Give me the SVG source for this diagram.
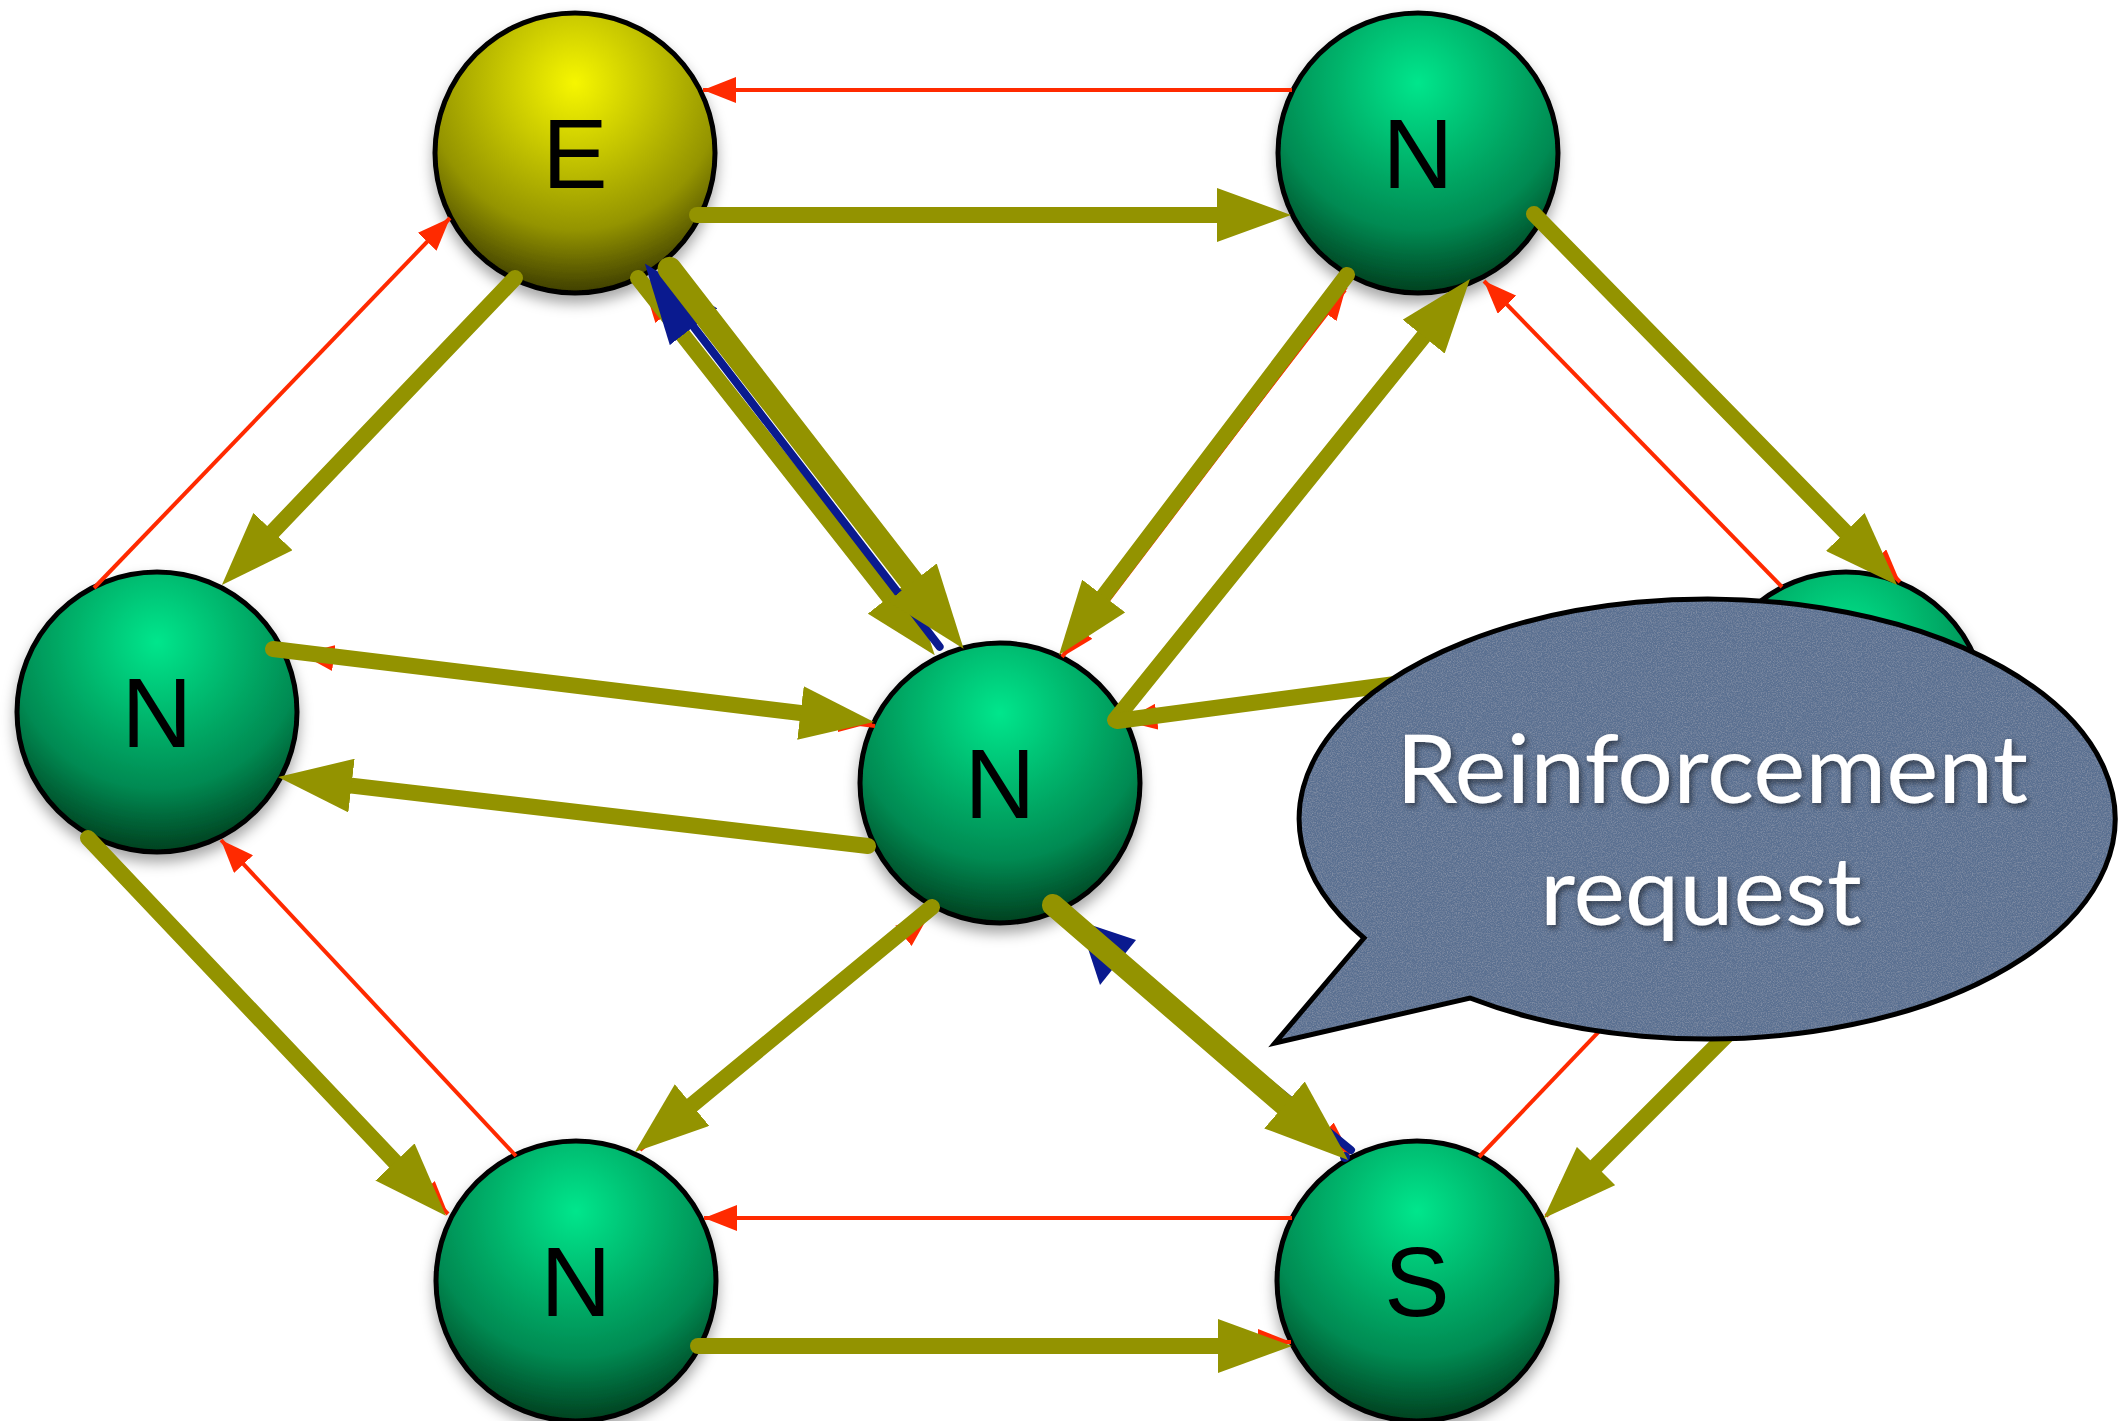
<svg xmlns="http://www.w3.org/2000/svg" width="2124" height="1421" viewBox="0 0 2124 1421">
  <defs>
    <style>
      .node { stroke: #000; stroke-width: 5; }
      .label { font-family: "Liberation Sans", Arial, sans-serif; font-size: 98px; fill: #000; text-anchor: middle; }
      .o { fill: none; stroke: #939300; stroke-width: 16; stroke-linecap: round; marker-end: url(#hOlive); }
      .ow { fill: none; stroke: #939300; stroke-linecap: round; marker-end: url(#hOliveL); }
      .r { fill: none; stroke: #ff2a00; stroke-width: 4; stroke-linecap: butt; marker-end: url(#hRed); }
      .b { fill: none; stroke: #0a1a8f; stroke-width: 8; stroke-linecap: round; }
      .callout-text { font-family: Lato, "Open Sans", "Liberation Sans", sans-serif; font-size: 95px; fill: #fff; text-anchor: middle; }
    </style>
    <radialGradient id="gGreen" cx="0.5" cy="0.25" r="0.75" fx="0.5" fy="0.25">
      <stop offset="0" stop-color="#00e68c"/>
      <stop offset="0.35" stop-color="#00b86e"/>
      <stop offset="0.7" stop-color="#008a52"/>
      <stop offset="1" stop-color="#00401f"/>
    </radialGradient>
    <radialGradient id="gYellow" cx="0.5" cy="0.25" r="0.75" fx="0.5" fy="0.25">
      <stop offset="0" stop-color="#f6f600"/>
      <stop offset="0.35" stop-color="#c6c600"/>
      <stop offset="0.7" stop-color="#949400"/>
      <stop offset="1" stop-color="#3e3e00"/>
    </radialGradient>
    <filter id="nodeShadow" x="-20%" y="-20%" width="140%" height="150%">
      <feDropShadow dx="0" dy="8" stdDeviation="7" flood-color="#000" flood-opacity="0.35"/>
    </filter>
    <filter id="textShadow" x="-10%" y="-30%" width="120%" height="160%">
      <feDropShadow dx="2" dy="3" stdDeviation="3" flood-color="#000" flood-opacity="0.55"/>
    </filter>
    <filter id="grain" x="0%" y="0%" width="100%" height="100%">
      <feTurbulence type="fractalNoise" baseFrequency="0.8" numOctaves="3" seed="7" result="noise"/>
      <feColorMatrix in="noise" type="matrix" values="0 0 0 0 1  0 0 0 0 1  0 0 0 0 1  0.3 0 0 0 -0.12" result="speck"/>
      <feComposite in="speck" in2="SourceGraphic" operator="in" result="g"/>
      <feMerge>
        <feMergeNode in="SourceGraphic"/>
        <feMergeNode in="g"/>
      </feMerge>
    </filter>
    <marker id="hOlive" markerUnits="userSpaceOnUse" viewBox="0 -27 74 54" markerWidth="74" markerHeight="54" refX="0" refY="0" orient="auto">
      <path d="M0,-27 L74,0 L0,27 z" fill="#939300"/>
    </marker>
    <marker id="hOliveL" markerUnits="userSpaceOnUse" viewBox="0 -31 84 62" markerWidth="84" markerHeight="62" refX="0" refY="0" orient="auto">
      <path d="M0,-31 L84,0 L0,31 z" fill="#939300"/>
    </marker>
    <marker id="hRed" markerUnits="userSpaceOnUse" viewBox="0 -13 33 26" markerWidth="33" markerHeight="26" refX="33" refY="0" orient="auto">
      <path d="M0,-13 L33,0 L0,13 z" fill="#ff2a00"/>
    </marker>
    <marker id="hBlue" markerUnits="userSpaceOnUse" viewBox="0 -30 80 60" markerWidth="80" markerHeight="60" refX="0" refY="0" orient="auto">
      <path d="M0,-30 L80,0 L0,30 z" fill="#0a1a8f"/>
    </marker>
  </defs>

  <rect width="2124" height="1421" fill="#fff"/>

  <!-- nodes -->
  <g id="node-E" filter="url(#nodeShadow)">
    <circle class="node" cx="575" cy="153" r="140" fill="url(#gYellow)"/>
    <text class="label" x="575" y="188">E</text>
  </g>
  <g id="node-N-top" filter="url(#nodeShadow)">
    <circle class="node" cx="1418" cy="153" r="140" fill="url(#gGreen)"/>
    <text class="label" x="1418" y="188">N</text>
  </g>
  <g id="node-N-left" filter="url(#nodeShadow)">
    <circle class="node" cx="157" cy="712" r="140" fill="url(#gGreen)"/>
    <text class="label" x="157" y="747">N</text>
  </g>
  <g id="node-N-center" filter="url(#nodeShadow)">
    <circle class="node" cx="1000" cy="783" r="140" fill="url(#gGreen)"/>
    <text class="label" x="1000" y="818">N</text>
  </g>
  <!-- right node sits behind the callout, only its top cap shows -->
  <g id="node-N-right" filter="url(#nodeShadow)">
    <circle class="node" cx="1846" cy="712" r="140" fill="url(#gGreen)"/>
  </g>
  <g id="node-N-bottom" filter="url(#nodeShadow)">
    <circle class="node" cx="576" cy="1281" r="140" fill="url(#gGreen)"/>
    <text class="label" x="576" y="1316">N</text>
  </g>
  <g id="node-S" filter="url(#nodeShadow)">
    <circle class="node" cx="1417" cy="1281" r="140" fill="url(#gGreen)"/>
    <text class="label" x="1417" y="1316">S</text>
  </g>

  <!-- connectors -->
  <g id="connectors">
    <!-- thin red links -->
    <path class="r" d="M1292,90 L703,90"/>
    <path class="r" d="M94,588 L450,218"/>
    <path class="r" d="M1782,587 L1484,281"/>
    <path class="r" d="M516,1156 L221,840"/>
    <path class="r" d="M1292,1218 L704,1218"/>
    <path class="r" d="M1479,1157 L1783,839"/>
    <path class="r" d="M925,640 L645,289"/>
    <path class="r" d="M1072,648 L1346,287"/>
    <path class="r" d="M1345,290 L1062,657"/>
    <path class="r" d="M875,726 L301,654"/>
    <path class="r" d="M280,652 L872,723"/>
    <path class="r" d="M640,1150 L929,915"/>
    <path class="r" d="M925,915 L640,1147"/>
    <path class="r" d="M90,836 L448,1214"/>
    <path class="r" d="M702,1342 L1291,1342"/>
    <path class="r" d="M1058,900 L1350,1154"/>
    <path class="r" d="M1537,211 L1900,582"/>
    <path class="r" d="M1700,645 L1124,721"/>
    <path class="r" d="M1935,826 L1546,1216"/>

    <!-- blue return S to centre -->
    <polygon points="1079,921 1100,985 1136,940" fill="#0a1a8f"/>
    <path class="b" d="M1351,1150 L1118,960" stroke-width="5"/>
    <circle cx="1345" cy="1157" r="5" fill="#0a1a8f"/>

    <!-- olive links -->
    <path class="o" d="M697,215 L1217,215"/>
    <path class="o" d="M515,278 L273,531.5"/>
    <path class="o" d="M638,278 L889,597"/>
    <path class="o" d="M1347,275 L1103.7,596"/>
    <path class="o" d="M1115,720 L1423.6,336.6"/>
    <path class="o" d="M1534,214 L1845.3,532"/>
    <path class="o" d="M273,649 L800.5,713"/>
    <path class="o" d="M868,846 L351.5,785.6"/>
    <path class="o" d="M88,838 L395,1162"/>
    <path class="o" d="M932,907 L692,1105"/>
    <path class="o" d="M698,1346 L1218,1346"/>
    <path class="o" d="M1939,823 L1596,1166"/>
    <path class="o" d="M1117,721 L1651,650"/>

    <!-- blue return centre to E -->
    <path class="b" d="M939.6,646.8 L693.6,326.8" marker-end="url(#hBlue)"/>

    <!-- reinforced olive links -->
    <path class="ow" d="M669.6,268.8 L912.2,582.4" stroke-width="24"/>
    <path class="ow" d="M1053,905 L1284.5,1105" stroke-width="22"/>
  </g>

  <!-- speech bubble -->
  <g id="callout">
    <path d="M1364,938 L1275,1043 L1470,998 A408,220 0 1 0 1364,938 Z" fill="#5a7091" filter="url(#grain)"/>
    <path d="M1364,938 L1275,1043 L1470,998 A408,220 0 1 0 1364,938 Z" fill="none" stroke="#000" stroke-width="5" stroke-linejoin="miter"/>
    <g filter="url(#textShadow)">
      <text class="callout-text" x="1712" y="803" textLength="632" lengthAdjust="spacingAndGlyphs">Reinforcement</text>
      <text class="callout-text" x="1701" y="925" textLength="322" lengthAdjust="spacingAndGlyphs">request</text>
    </g>
  </g>
</svg>
